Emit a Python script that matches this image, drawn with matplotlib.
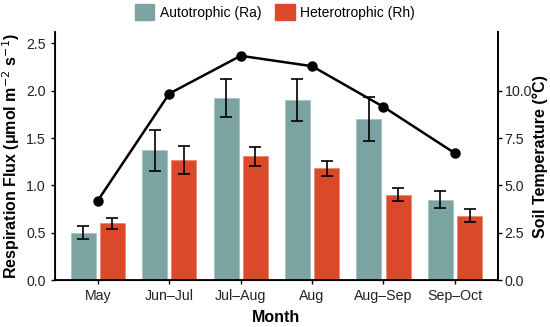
import matplotlib
matplotlib.use("Agg")
import matplotlib.pyplot as plt
import numpy as np
from matplotlib.patches import Patch

plt.rcParams['font.family'] = ['Liberation Sans', 'DejaVu Sans']

months = ["May", "Jun\u2013Jul", "Jul\u2013Aug", "Aug", "Aug\u2013Sep", "Sep\u2013Oct"]
ra = [0.50, 1.37, 1.92, 1.90, 1.70, 0.85]
ra_err = [0.07, 0.22, 0.20, 0.22, 0.23, 0.09]
rh = [0.60, 1.27, 1.31, 1.18, 0.90, 0.68]
rh_err = [0.06, 0.15, 0.10, 0.08, 0.07, 0.07]
temp = [4.2, 9.85, 11.85, 11.3, 9.15, 6.7]
left_ticks = [0.0, 0.5, 1.0, 1.5, 2.0, 2.5]
right_ticks = [0.0, 2.5, 5.0, 7.5, 10.0]

c_ra = "#7BA3A2"
c_rh = "#D9492A"

fig = plt.figure(figsize=(5.5, 3.27), dpi=100)
ax = fig.add_axes([0.1, 0.1437, 0.805, 0.758])
x = np.arange(len(months))
w = 0.35
off = 0.205
ax.bar(x - off, ra, w, color=c_ra, edgecolor="#a9c3c2", linewidth=0.6, zorder=2)
ax.bar(x + off, rh, w, color=c_rh, edgecolor="#e98a6f", linewidth=0.6, zorder=2)
ax.errorbar(x - off, ra, yerr=ra_err, fmt="none", ecolor="black", elinewidth=1.2, capsize=4, capthick=1.2, zorder=3)
ax.errorbar(x + off, rh, yerr=rh_err, fmt="none", ecolor="black", elinewidth=1.2, capsize=4, capthick=1.2, zorder=3)
ax.set_xlim(-0.6, 5.6)
ax.set_ylim(0, 2.62)
ax.set_yticks(left_ticks)
ax.set_yticklabels([f"{t:.1f}" for t in left_ticks])
ax.set_xticks(x)
ax.set_xticklabels(months)
ax.spines['top'].set_visible(False)
for s in ['left', 'right', 'bottom']:
    ax.spines[s].set_linewidth(1.3)
ax.tick_params(labelsize=10.2, colors="black", width=1, length=3, labelcolor="#222222")
ax.set_xlabel("Month", fontsize=11.5, fontweight="bold", labelpad=5)
ax.set_ylabel("Respiration Flux (\u03bcmol m$^{-2}$ s$^{-1}$)", fontsize=11.5, fontweight="bold", labelpad=3)

ax2 = ax.twinx()
ax2.plot(x, temp, color="black", lw=1.8, marker="o", markersize=6.5, zorder=4)
ax2.set_ylim(0, 2.62 * 5)
ax2.set_yticks(right_ticks)
ax2.set_yticklabels([f"{t:.1f}" for t in right_ticks])
ax2.spines['top'].set_visible(False)
ax2.spines['right'].set_linewidth(1.3)
ax2.tick_params(labelsize=10.2, width=1, length=3, labelcolor="#222222", pad=2)
ax2.set_ylabel("Soil Temperature (\u00b0C)", fontsize=11.5, fontweight="bold", labelpad=0)

handles = [Patch(color=c_ra, label="Autotrophic (Ra)"), Patch(color=c_rh, label="Heterotrophic (Rh)")]
fig.legend(handles=handles, loc="upper center", bbox_to_anchor=(0.5, 1.025), ncol=2, frameon=False,
           fontsize=10, handlelength=1.4, handleheight=1.4, columnspacing=1.0, handletextpad=0.4)

fig.savefig("out.png", dpi=100)
